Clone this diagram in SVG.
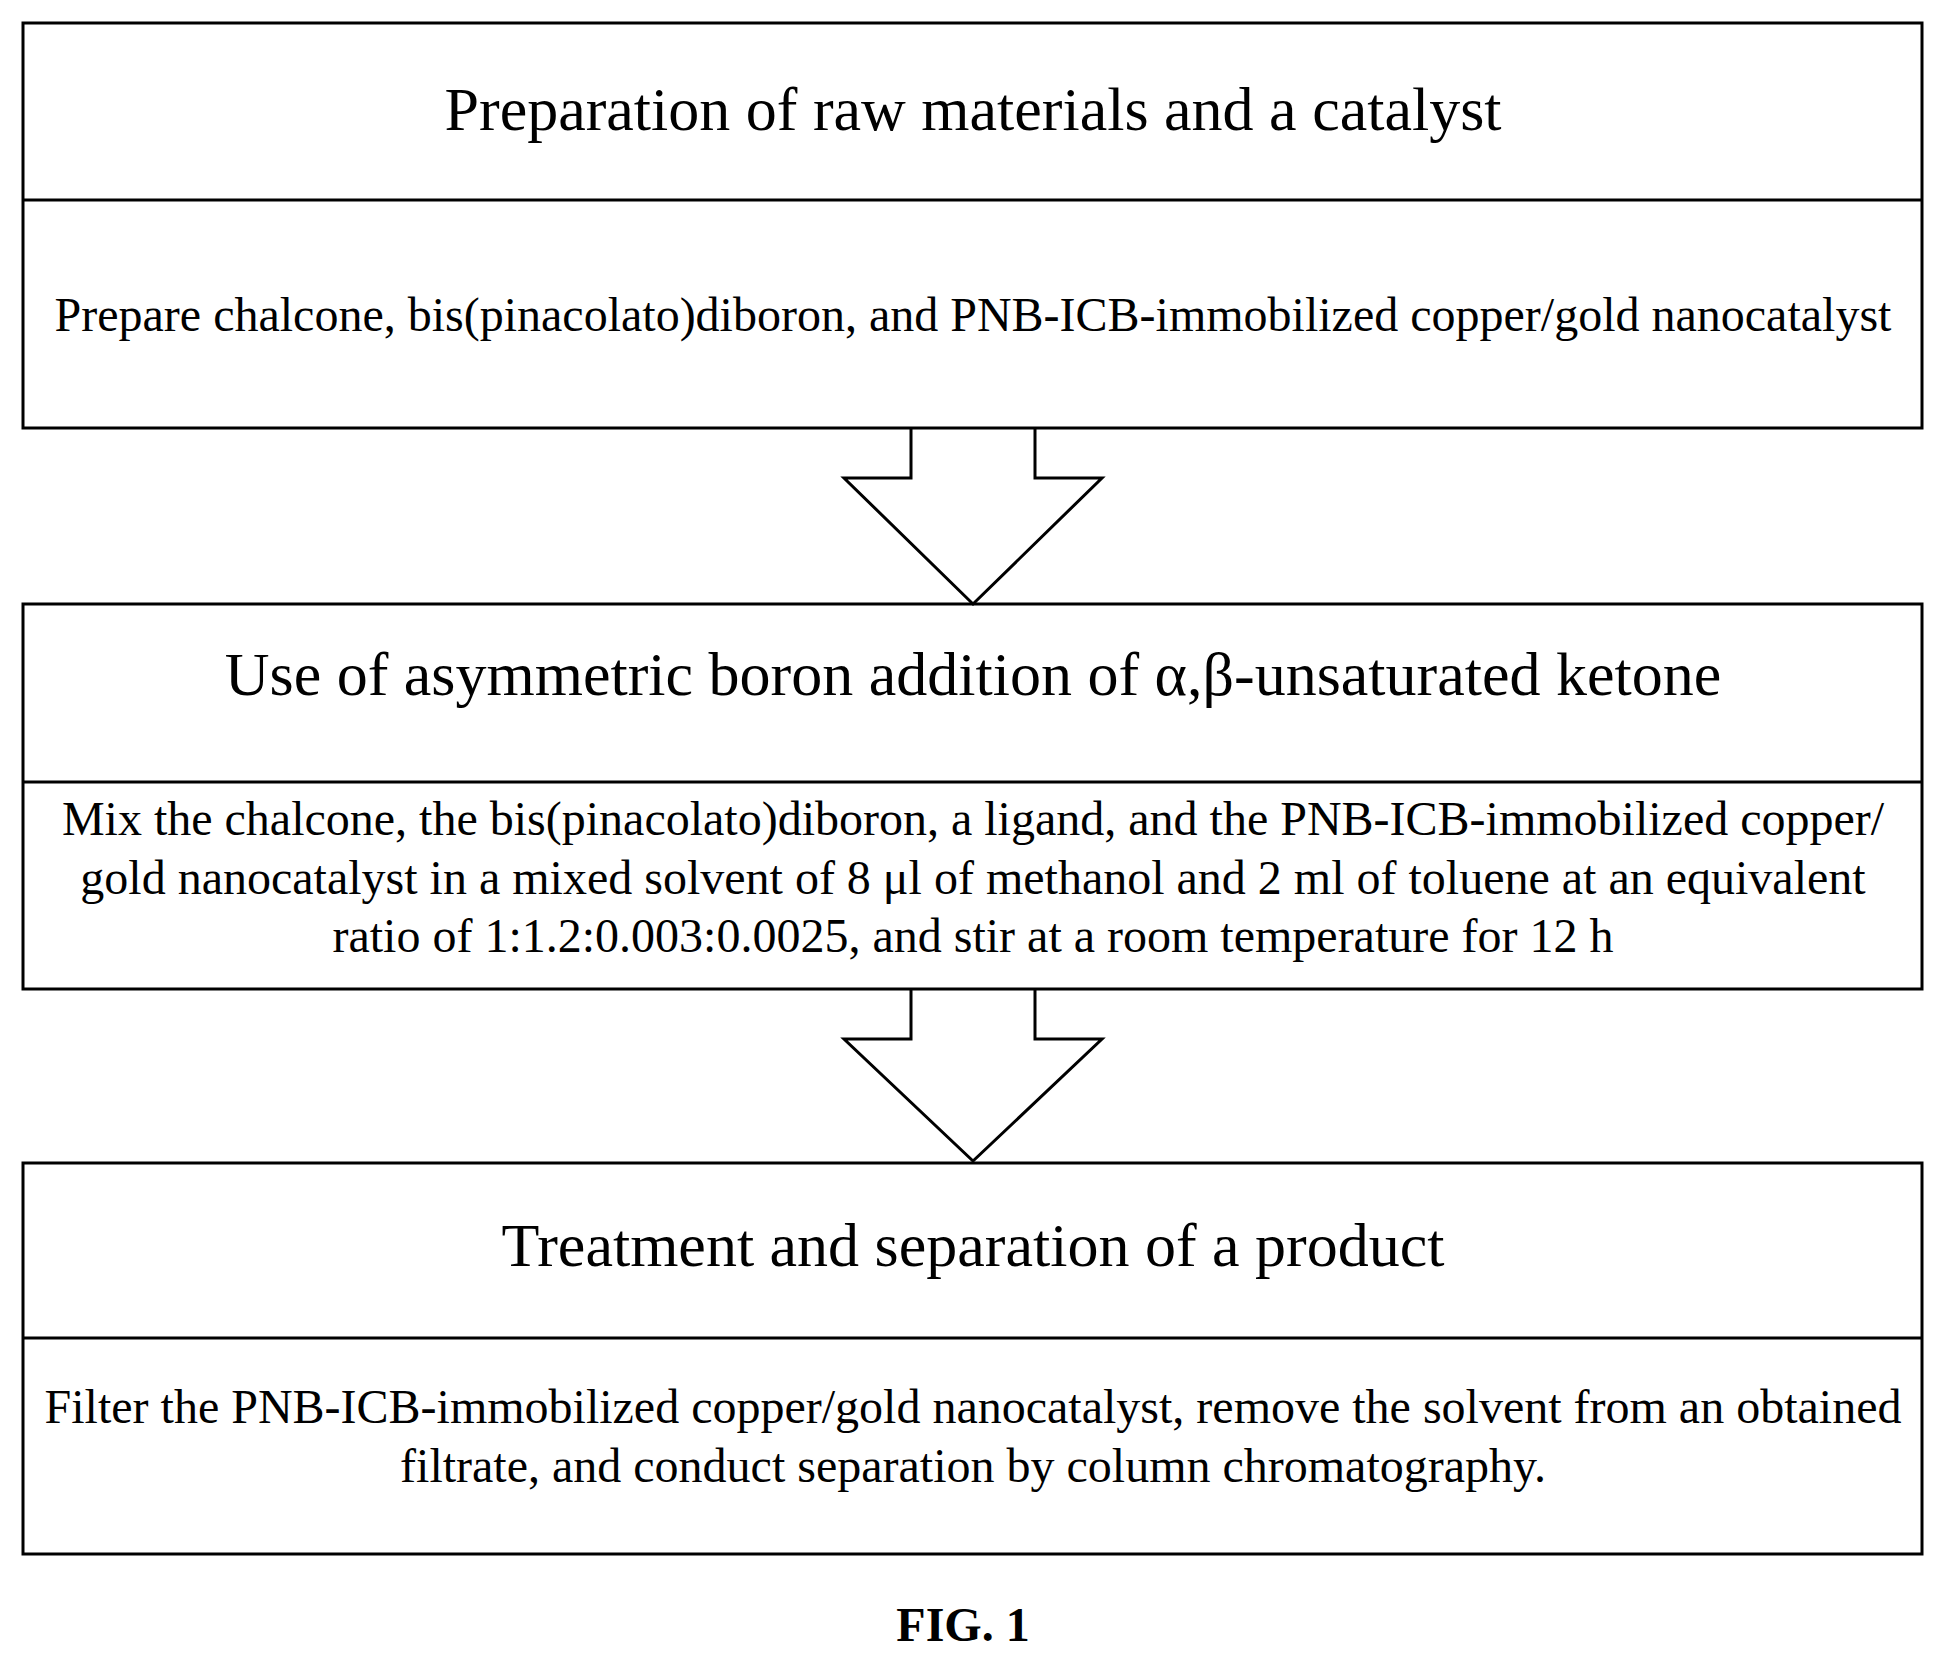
<svg xmlns="http://www.w3.org/2000/svg" width="1946" height="1664" viewBox="0 0 1946 1664">
<style>
.b{fill:none;stroke:#000;stroke-width:3}
.t{font-family:"Liberation Serif",serif;font-size:62px;text-anchor:middle}
.s{font-family:"Liberation Serif",serif;font-size:48px;text-anchor:middle}
.f{font-family:"Liberation Serif",serif;font-size:48px;font-weight:bold;text-anchor:middle}
</style>
<rect width="1946" height="1664" fill="#fff"/>
<g id="node1">
<rect class="b" x="23" y="23" width="1899" height="405"/>
<line class="b" x1="23" y1="200" x2="1922" y2="200"/>
<text class="t" x="973" y="130">Preparation of raw materials and a catalyst</text>
<text class="s" x="973" y="331">Prepare chalcone, bis(pinacolato)diboron, and PNB-ICB-immobilized copper/gold nanocatalyst</text>
</g>
<g id="node2">
<rect class="b" x="23" y="604" width="1899" height="385"/>
<line class="b" x1="23" y1="782" x2="1922" y2="782"/>
<text class="t" x="973" y="695">Use of asymmetric boron addition of α,β-unsaturated ketone</text>
<text class="s" x="973" y="835">Mix the chalcone, the bis(pinacolato)diboron, a ligand, and the PNB-ICB-immobilized copper/</text>
<text class="s" x="973" y="894">gold nanocatalyst in a mixed solvent of 8 μl of methanol and 2 ml of toluene at an equivalent</text>
<text class="s" x="973" y="952">ratio of 1:1.2:0.003:0.0025, and stir at a room temperature for 12 h</text>
</g>
<g id="node3">
<rect class="b" x="23" y="1163" width="1899" height="391"/>
<line class="b" x1="23" y1="1338" x2="1922" y2="1338"/>
<text class="t" x="973" y="1266">Treatment and separation of a product</text>
<text class="s" x="973" y="1423">Filter the PNB-ICB-immobilized copper/gold nanocatalyst, remove the solvent from an obtained</text>
<text class="s" x="973" y="1482">filtrate, and conduct separation by column chromatography.</text>
</g>
<g id="connectors">
<path class="b" d="M911,428 V478 H844 L973,604 L1102,478 H1035 V428"/>
<path class="b" d="M911,989 V1039 H844 L973,1161 L1102,1039 H1035 V989"/>
</g>
<text class="f" x="963" y="1641">FIG. 1</text>
</svg>
